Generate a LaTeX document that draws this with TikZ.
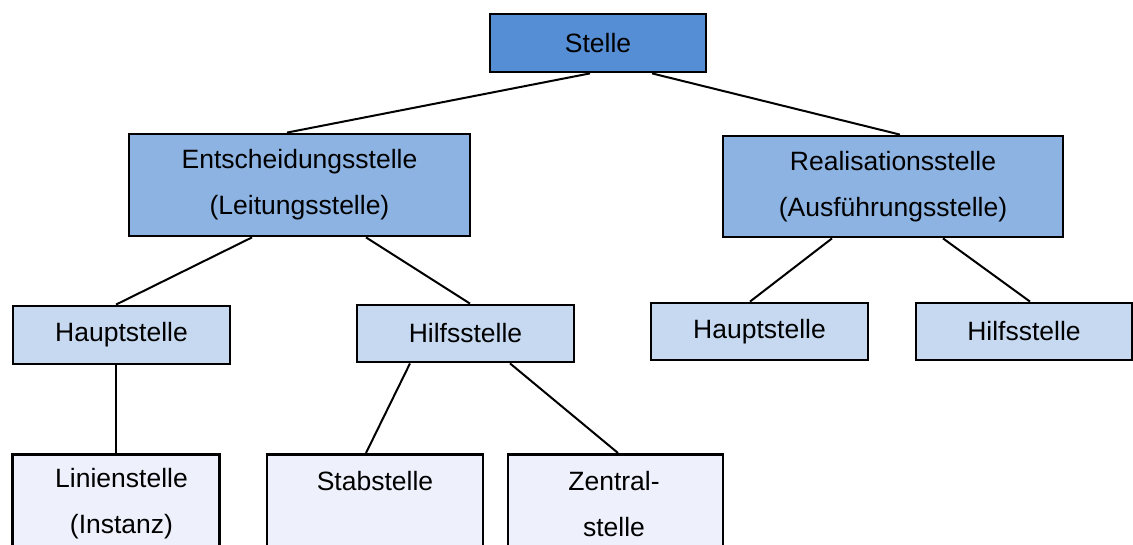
\documentclass[tikz,border=0pt]{standalone}
\usepackage{fontspec}
\setmainfont{Liberation Sans}
\definecolor{topblue}{HTML}{558ED5}
\definecolor{midblue}{HTML}{8DB3E2}
\definecolor{lowblue}{HTML}{C6D9F1}
\definecolor{leafblue}{HTML}{EEF1FC}
\begin{document}
\begin{tikzpicture}[x=1pt,y=-1pt,
  lbl/.style={font=\fontsize{26.5}{46}\selectfont, align=center},
  box/.style={lbl, draw=black, line width=2.8pt, rectangle, inner sep=0pt},
  link/.style={draw=black, line width=2pt}]
\useasboundingbox (0,0) rectangle (1133,545);
\clip (0,0) rectangle (1133,545);
% top level
\node[box, fill=topblue, minimum width=216pt, minimum height=58pt] (stelle) at (598,43) {Stelle};
% second level
\node[box, fill=midblue, minimum width=341pt, minimum height=102pt] (entsch) at (299.5,185) {Entscheidungsstelle\\(Leitungsstelle)};
\node[box, fill=midblue, minimum width=340pt, minimum height=101pt] (real) at (893,186.5) {Realisationsstelle\\(Ausführungsstelle)};
% third level
\node[box, fill=lowblue, minimum width=217pt, minimum height=58pt] (hauptL) at (121.5,335) {Hauptstelle};
\node[box, fill=lowblue, minimum width=217pt, minimum height=57pt] (hilfL) at (465.5,333.5) {Hilfsstelle};
\node[box, fill=lowblue, minimum width=217pt, minimum height=57pt] (hauptR) at (759.5,331.5) {Hauptstelle};
\node[box, fill=lowblue, minimum width=216pt, minimum height=57pt] (hilfR) at (1024,331.5) {Hilfsstelle};
% fourth level (runs past the lower edge)
\node[box, fill=leafblue, minimum width=207pt, minimum height=150pt, anchor=north] (linie) at (116,453) {};
\node[lbl] (linieT) at (121.5,504) {Linienstelle\\(Instanz)};
\node[box, fill=leafblue, minimum width=216pt, minimum height=150pt, anchor=north] (stab) at (375,453) {};
\node[lbl] (stabT) at (375,481) {Stabstelle};
\node[box, fill=leafblue, minimum width=215pt, minimum height=150pt, anchor=north] (zentral) at (615.5,453) {};
\node[lbl] (zentralT) at (614,504) {Zentral-\\stelle};
% connectors
\draw[link] ([xshift=-8pt]stelle.south) -- ([xshift=-12.5pt]entsch.north);
\draw[link] ([xshift=54pt]stelle.south) -- ([xshift=7pt]real.north);
\draw[link] ([xshift=-47.5pt]entsch.south) -- ([xshift=-5.5pt]hauptL.north);
\draw[link] ([xshift=66.5pt]entsch.south) -- ([xshift=4.5pt]hilfL.north);
\draw[link] ([xshift=-61pt]real.south) -- ([xshift=-9.5pt]hauptR.north);
\draw[link] ([xshift=50pt]real.south) -- ([xshift=6pt]hilfR.north);
\draw[link] ([xshift=-5.5pt]hauptL.south) -- (linie.north);
\draw[link] ([xshift=-55.5pt]hilfL.south) -- ([xshift=-9pt]stab.north);
\draw[link] ([xshift=44.5pt]hilfL.south) -- ([xshift=2.5pt]zentral.north);
\end{tikzpicture}
\end{document}
